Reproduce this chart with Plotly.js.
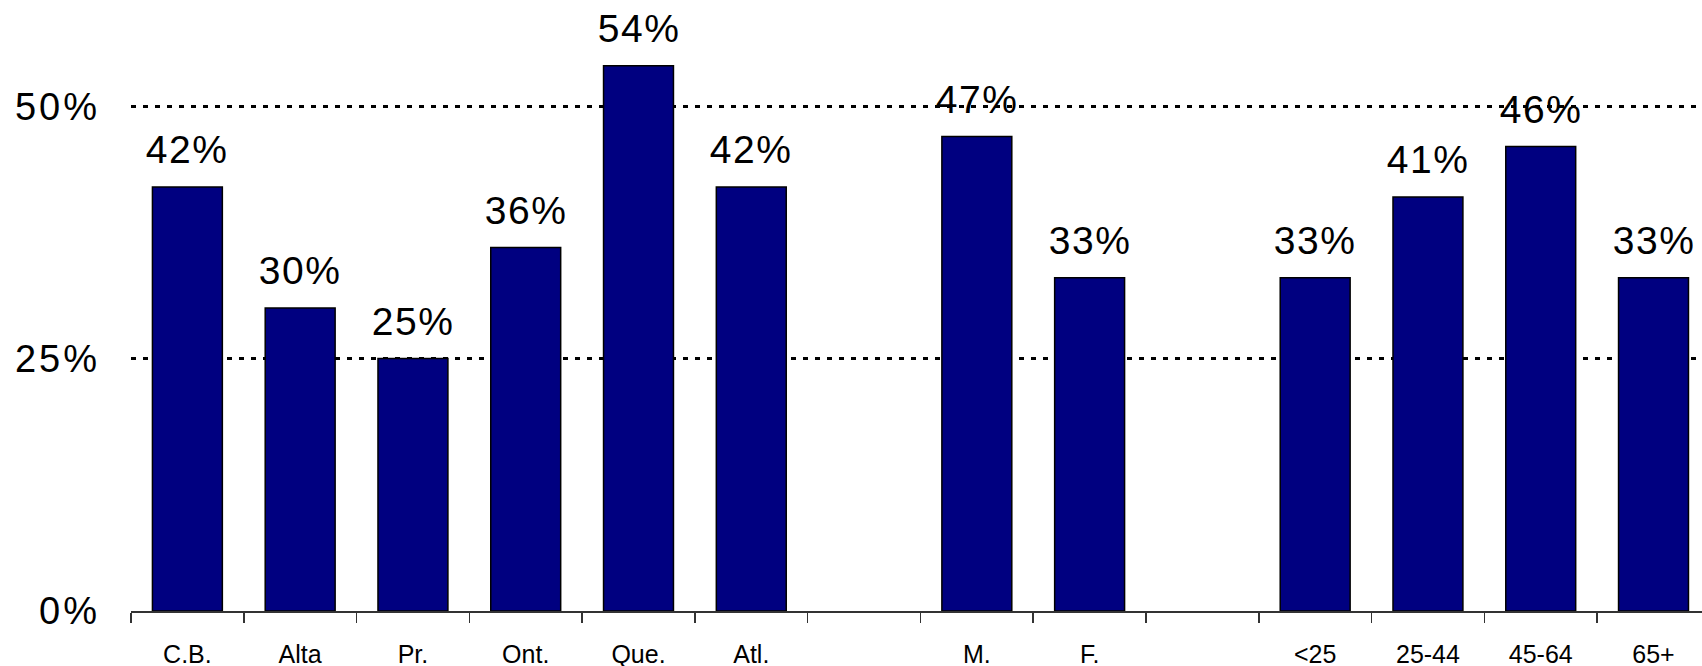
<!DOCTYPE html>
<html>
<head>
<meta charset="utf-8">
<script src="https://cdn.plot.ly/plotly-3.0.1.min.js"></script>
<style>
html, body { margin: 0; padding: 0; background: #fff; }
#chart { width: 1702px; height: 666px; }
#chart .ytick text { letter-spacing: 3px; }
#chart .annotation-text { letter-spacing: 1.5px; }
</style>
</head>
<body>
<div id="chart"></div>
<script>
// Categories (blank entries are the gaps between groups)
const categories = ['C.B.', 'Alta', 'Pr.', 'Ont.', 'Que.', 'Atl.', ' ', 'M.', 'F.', '  ', '<25', '25-44', '45-64', '65+'];
// Percent values (null = gap)
const values = [42, 30, 25, 36, 54, 42, null, 47, 33, null, 33, 41, 46, 33];
const yTicks = [0, 25, 50];
const yTickLabels = ['0%', '25%', '50%'];

const labelAnnotations = [];
categories.forEach((c, i) => {
  if (values[i] !== null) {
    labelAnnotations.push({
      x: c, y: values[i], xref: 'x', yref: 'y',
      text: values[i] + '%', showarrow: false,
      yanchor: 'bottom', yshift: 14,
      font: { family: 'Liberation Sans, Arial, sans-serif', size: 39, color: '#000' }
    });
  }
});

const trace = {
  type: 'bar',
  x: categories,
  y: values,
  width: 0.62,
  marker: { color: '#000080', line: { color: '#000', width: 1.5 } },
  hoverinfo: 'none'
};

const layout = {
  width: 1702, height: 666,
  margin: { l: 131, r: 0, t: 0, b: 55 },
  paper_bgcolor: '#fff', plot_bgcolor: '#fff',
  showlegend: false,
  bargap: 0.38,
  xaxis: {
    type: 'category',
    categoryorder: 'array', categoryarray: categories,
    range: [-0.5, 13.43],
    tickson: 'boundaries',
    ticks: 'outside', ticklen: 10, tickwidth: 1.5, tickcolor: '#333',
    showline: true, linecolor: '#333', linewidth: 1.5,
    showgrid: false, zeroline: false,
    ticklabelstandoff: 20,
    tickfont: { family: 'Liberation Sans, Arial, sans-serif', size: 25, color: '#000' },
    fixedrange: true
  },
  yaxis: {
    range: [0, 60.52],
    tickmode: 'array',
    tickvals: yTicks,
    ticktext: yTickLabels,
    ticks: '',
    showline: false,
    zeroline: false,
    showgrid: true, gridcolor: '#000', gridwidth: 3, griddash: '5px,7px',
    ticklabelstandoff: 30,
    tickfont: { family: 'Liberation Sans, Arial, sans-serif', size: 38, color: '#000' },
    fixedrange: true
  },
  annotations: labelAnnotations
};

Plotly.newPlot('chart', [trace], layout, { displayModeBar: false, staticPlot: true });
</script>
</body>
</html>
